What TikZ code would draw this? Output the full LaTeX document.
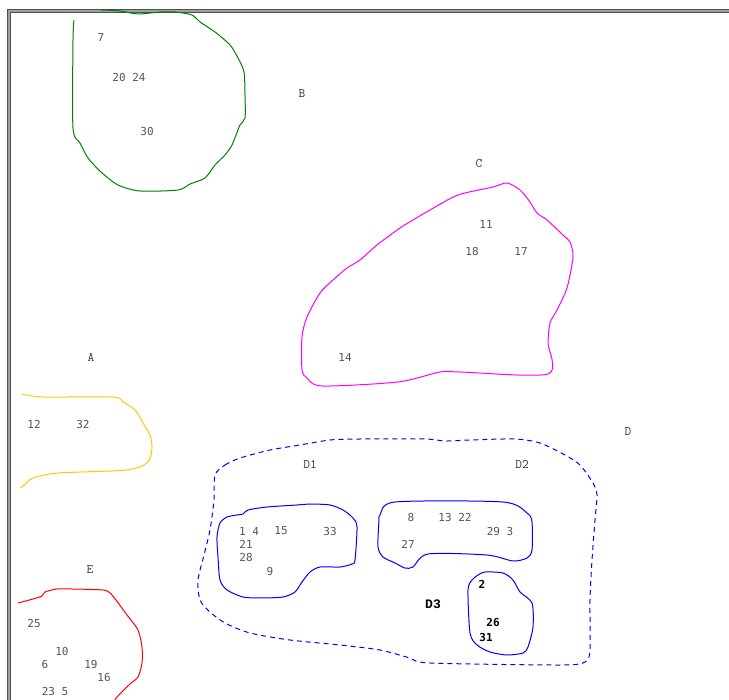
\documentclass[tikz,border=0pt]{standalone}
\usepackage{fontspec}
\newfontfamily\numfont{DejaVu Sans Mono}
\newfontfamily\capfont{Liberation Mono}
\usepackage{xcolor}
\usepackage{tikz}
\definecolor{txtgray}{RGB}{85,85,85}
\definecolor{framegray}{RGB}{80,80,80}
\definecolor{setyellow}{RGB}{255,200,0}
\definecolor{setgreen}{RGB}{0,128,0}
\definecolor{setmagenta}{RGB}{255,0,255}

\begin{document}
\begin{tikzpicture}[
      x=1pt, y=-1pt,
      num/.style={inner sep=0pt, text=txtgray, font=\numfont\fontsize{11}{11}\selectfont},
      bnum/.style={inner sep=0pt, text=black, font=\numfont\bfseries\fontsize{11}{11}\selectfont},
      setname/.style={inner sep=0pt, text=black!80, font=\ttfamily\fontsize{13}{13}\selectfont},
      blob/.style={line width=1pt, line join=round, smooth, tension=0.45}
    ]
      \useasboundingbox (0,0) rectangle (729,700);
      % frame
      \draw[framegray, line width=1.1pt, double=gray!75, double distance=1.2pt] (730,11) -- (9,11) -- (9,701);

      % set B
      \draw[blob, setgreen] plot coordinates {(74,20) (73,40) (73,128) (80,143) (88,158)
        (101,172) (118,185) (140,191) (178,190) (190,184) (205,178) (215,165) (225,155)
        (232,145) (240,125) (245,118) (245,95) (244,72) (238,58) (230,45) (215,32)
        (200,22) (192,15) (175,12) (160,12) (138,14) (120,11) (101,10)};
      \node[setname] (lB) at (302,94) {B};
      \node[num] (n7) at (101,37) {7};
      \node[num] (n20) at (129,77) {20 24};
      \node[num] (n30) at (147,131) {30};

      % set C
      \draw[blob, setmagenta] plot[smooth cycle] coordinates {(548,374) (548,343) (550,323)
        (557,310) (567,288) (573,257) (570,242) (563,235) (547,220) (537,213) (530,202)
        (520,190) (507,183) (493,187) (458,195) (430,210) (413,220) (400,228) (377,245)
        (360,260) (347,268) (333,280) (320,293) (307,317) (302,337) (302,370) (307,378)
        (322,386) (398,382) (440,372) (460,372)};
      \node[setname] (lC) at (479,164) {C};
      \node[num] (n11) at (486,224) {11};
      \node[num] (n18) at (472,251) {18};
      \node[num] (n17) at (521,251) {17};
      \node[num] (n14) at (345,357) {14};

      % set A
      \draw[blob, setyellow] plot coordinates {(22,394) (43,397) (113,397) (123,402)
        (135,410) (143,423) (150,435) (152,447) (148,462) (127,470) (58,473) (33,478)
        (23,486) (20,488)};
      \node[setname] (lA) at (91,357) {A};
      \node[num] (n12) at (34,424) {12};
      \node[num] (n32) at (83,424) {32};

      % set E
      \draw[blob, red] plot coordinates {(18,603) (33,599) (42,596) (45,592) (57,589)
        (72,589) (103,590) (110,593) (116,600) (127,615) (138,630) (142,647) (142,663)
        (138,677) (130,684) (117,697) (115,700)};
      \node[setname] (lE) at (90,570) {E};
      \node[num] (n25) at (34,623) {25};
      \node[num] (n10) at (62,651) {10};
      \node[num] (n6) at (45,664) {6};
      \node[num] (n19) at (91,664) {19};
      \node[num] (n16) at (104,677) {16};
      \node[num] (n23) at (55,691) {23 5};

      % set D
      \draw[blob, blue, dashed, dash pattern=on 5pt off 4pt] plot[smooth cycle] coordinates {
        (215,475) (225,465) (240,458) (270,450) (300,445) (330,440) (360,439) (425,439)
        (445,441) (470,440) (515,439) (540,443) (565,455) (580,465) (593,483) (597,495)
        (595,520) (592,560) (590,600) (590,650) (585,662) (560,665) (430,663) (410,658)
        (380,650) (340,645) (290,640) (250,633) (225,623) (210,612) (200,600) (198,580)
        (204,555) (210,530) (214,500)};
      \node[setname] (lD) at (628,432) {D};

      % D1
      \draw[blob, blue] plot[smooth cycle] coordinates {(243,514) (248,510) (267,507)
        (297,505) (310,504) (330,505) (343,510) (353,518) (357,527) (355,560) (352,564)
        (340,567) (320,567) (310,572) (302,582) (295,592) (283,597) (260,598) (243,597)
        (227,590) (220,580) (218,557) (217,537) (220,523) (227,517) (237,515)};
      \node[setname] (lD1) at (310,464) {D1};
      \node[num] (n1) at (249,531) {1 4};
      \node[num] (n15) at (281,531) {15};
      \node[num] (n33) at (330,531) {33};
      \node[num] (n21) at (246,544) {21};
      \node[num] (n28) at (246,557) {28};
      \node[num] (n9) at (270,571) {9};

      % D2
      \draw[blob, blue] plot[smooth cycle] coordinates {(380,515) (395,502)
        (503,502) (527,513) (532,522) (532,550) (527,558) (513,561) (487,555) (428,554)
        (413,567) (405,568) (395,563) (383,557) (378,547) (379,520)};
      \node[setname] (lD2) at (522,464) {D2};
      \node[num] (n8) at (411,517) {8};
      \node[num] (n13) at (455,517) {13 22};
      \node[num] (n29) at (500,531) {29 3};
      \node[num] (n27) at (408,544) {27};

      % D3
      \draw[blob, blue] plot[smooth cycle] coordinates {(478,575) (485,572) (503,573)
        (513,580) (520,592) (532,603) (533,627) (528,647) (523,653) (507,655) (490,652)
        (477,645) (470,633) (468,590) (472,580)};
      \node[inner sep=0pt, font=\capfont\bfseries\fontsize{13}{13}\selectfont] (lD3) at (433,604) {D3};
      \node[bnum] (n2) at (482,584) {2};
      \node[bnum] (n26) at (493,623) {26};
      \node[bnum] (n31) at (486,637) {31};
    \end{tikzpicture}
\end{document}
